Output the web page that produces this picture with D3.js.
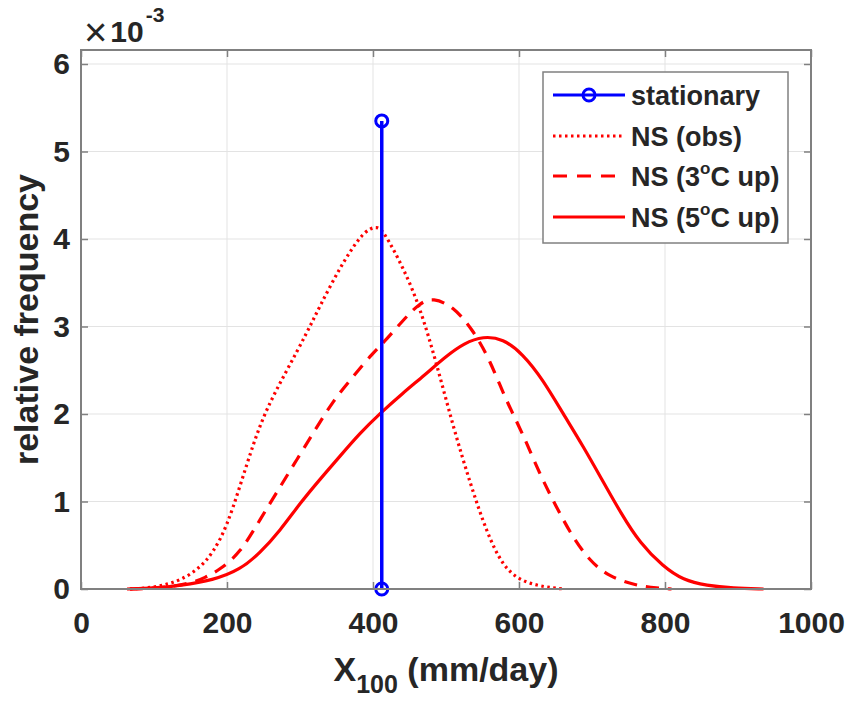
<!DOCTYPE html>
<html>
<head>
<meta charset="utf-8">
<script src="https://cdn.jsdelivr.net/npm/d3@7"></script>
<style>
  body { margin: 0; background: #fff; }
  text { font-family: Arial, "Liberation Sans", sans-serif; font-weight: bold; fill: #262626; }
</style>
</head>
<body>
<script>
// values in units of 1e-3
const xTicks = [0, 200, 400, 600, 800, 1000];
const yTicks = [0, 1, 2, 3, 4, 5, 6];

const stationaryX = [412, 412];
const stationaryY = [0, 5.35];

const obsX = [67, 90, 113, 136, 160, 181, 200, 218, 236, 254, 282, 309, 327, 355, 382, 396, 405, 414, 441, 464, 487, 510, 533, 556, 578, 601, 625, 647, 663];
const obsY = [0, 0.01, 0.04, 0.10, 0.22, 0.41, 0.72, 1.18, 1.66, 2.06, 2.50, 2.92, 3.23, 3.68, 4.03, 4.12, 4.14, 4.10, 3.68, 3.23, 2.58, 1.85, 1.21, 0.64, 0.26, 0.10, 0.04, 0.01, 0];

const up3X = [67, 110, 149, 170, 190, 218, 245, 273, 295, 318, 346, 373, 400, 414, 441, 464, 482, 510, 537, 560, 582, 605, 628, 651, 673, 696, 723, 760, 790, 809];
const up3Y = [0, 0.01, 0.06, 0.13, 0.22, 0.41, 0.79, 1.17, 1.47, 1.78, 2.16, 2.43, 2.70, 2.81, 3.07, 3.27, 3.33, 3.23, 2.96, 2.62, 2.16, 1.78, 1.32, 0.94, 0.60, 0.33, 0.14, 0.04, 0.01, 0];

const up5X = [63, 100, 136, 181, 218, 245, 273, 300, 327, 355, 382, 410, 441, 470, 500, 525, 551, 578, 605, 633, 660, 688, 713, 740, 766, 797, 825, 857, 893, 935];
const up5Y = [0, 0.01, 0.04, 0.10, 0.22, 0.41, 0.67, 0.98, 1.25, 1.52, 1.78, 2.01, 2.24, 2.44, 2.66, 2.81, 2.89, 2.86, 2.69, 2.39, 2.01, 1.63, 1.26, 0.86, 0.52, 0.26, 0.10, 0.04, 0.01, 0];

const legendLabels = ['stationary', 'NS (obs)', 'NS (3', 'NS (5'];

const width = 848, height = 702;
const mLeft = 81, mRight = 811, mTop = 50, mBottom = 589;
const font = 'Arial, "Liberation Sans", sans-serif';

const svg = d3.select('body').append('svg')
  .attr('width', width)
  .attr('height', height);

const x = d3.scaleLinear().domain([0, 1000]).range([mLeft, mRight]);
const y = d3.scaleLinear().domain([0, 6.16]).range([mBottom, mTop]);

// grid
svg.append('g').selectAll('line')
  .data(xTicks.slice(1, -1))
  .enter().append('line')
  .attr('x1', d => x(d)).attr('x2', d => x(d))
  .attr('y1', mTop).attr('y2', mBottom)
  .attr('stroke', '#e3e3e3').attr('stroke-width', 1);

svg.append('g').selectAll('line')
  .data(yTicks.slice(1))
  .enter().append('line')
  .attr('x1', mLeft).attr('x2', mRight)
  .attr('y1', d => y(d)).attr('y2', d => y(d))
  .attr('stroke', '#e3e3e3').attr('stroke-width', 1);

// curves
const line = d3.line()
  .x(d => x(d[0]))
  .y(d => y(d[1]))
  .curve(d3.curveBasis);

const series = [
  { xs: obsX, ys: obsY, dash: '2.5,3.5' },
  { xs: up3X, ys: up3Y, dash: '13,9' },
  { xs: up5X, ys: up5Y, dash: null }
];

series.forEach(s => {
  svg.append('path')
    .datum(d3.zip(s.xs, s.ys))
    .attr('fill', 'none')
    .attr('stroke', '#ff0000')
    .attr('stroke-width', 3.2)
    .attr('stroke-dasharray', s.dash)
    .attr('d', line);
});

// stationary stem
const stem = d3.zip(stationaryX, stationaryY);
svg.append('path')
  .datum(stem)
  .attr('fill', 'none')
  .attr('stroke', '#0000ff')
  .attr('stroke-width', 3.5)
  .attr('d', d3.line().x(d => x(d[0])).y(d => y(d[1])));

svg.append('g').selectAll('circle')
  .data(stem)
  .enter().append('circle')
  .attr('cx', d => x(d[0]))
  .attr('cy', d => y(d[1]))
  .attr('r', 6)
  .attr('fill', 'none')
  .attr('stroke', '#0000ff')
  .attr('stroke-width', 3);

// axes box
svg.append('rect')
  .attr('x', mLeft).attr('y', mTop)
  .attr('width', mRight - mLeft).attr('height', mBottom - mTop)
  .attr('fill', 'none')
  .attr('stroke', '#808080')
  .attr('stroke-width', 2);

const fmt = d3.format('d');

const gx = svg.append('g').attr('transform', `translate(0,${mBottom})`)
  .call(d3.axisBottom(x).tickValues(xTicks).tickSize(-7).tickPadding(23).tickFormat(fmt));
gx.select('.domain').remove();
gx.selectAll('.tick line').attr('stroke', '#808080').attr('stroke-width', 1.5);
gx.selectAll('.tick text').attr('font-size', 30).attr('fill', '#262626')
  .attr('font-family', font).attr('font-weight', 'bold');

const gxTop = svg.append('g').attr('transform', `translate(0,${mTop})`)
  .call(d3.axisTop(x).tickValues(xTicks).tickSize(-7).tickFormat(''));
gxTop.select('.domain').remove();
gxTop.selectAll('.tick line').attr('stroke', '#808080').attr('stroke-width', 1.5);

const gy = svg.append('g').attr('transform', `translate(${mLeft},0)`)
  .call(d3.axisLeft(y).tickValues(yTicks).tickSize(-7).tickPadding(11).tickFormat(fmt));
gy.select('.domain').remove();
gy.selectAll('.tick line').attr('stroke', '#808080').attr('stroke-width', 1.5);
gy.selectAll('.tick text').attr('font-size', 30).attr('fill', '#262626')
  .attr('font-family', font).attr('font-weight', 'bold');

const gyR = svg.append('g').attr('transform', `translate(${mRight},0)`)
  .call(d3.axisRight(y).tickValues(yTicks).tickSize(-7).tickFormat(''));
gyR.select('.domain').remove();
gyR.selectAll('.tick line').attr('stroke', '#808080').attr('stroke-width', 1.5);

// exponent
const ex = svg.append('text').attr('x', 84).attr('y', 42).attr('font-size', 30);
ex.append('tspan').text('\u00d7').attr('font-weight', 'normal').attr('font-size', 40).attr('dy', 4);
ex.append('tspan').text('10').attr('dx', 3).attr('dy', -4);
ex.append('tspan').text('-3').attr('font-size', 21).attr('dy', -20).attr('dx', 2);

// axis labels
const xl = svg.append('text')
  .attr('x', (mLeft + mRight) / 2).attr('y', 681)
  .attr('text-anchor', 'middle').attr('font-size', 34);
xl.append('tspan').text('X');
xl.append('tspan').text('100').attr('font-size', 25).attr('dy', 12);
xl.append('tspan').text(' (mm/day)').attr('dy', -12);

svg.append('text')
  .attr('transform', `translate(38,${(mTop + mBottom) / 2}) rotate(-90)`)
  .attr('text-anchor', 'middle').attr('font-size', 34)
  .text('relative frequency');

// legend
const lg = svg.append('g');
lg.append('rect')
  .attr('x', 543).attr('y', 72)
  .attr('width', 245).attr('height', 171)
  .attr('fill', '#fff')
  .attr('stroke', '#808080').attr('stroke-width', 1.5);

const legendRows = [95, 136, 176, 217];
const legendStyles = [
  { color: '#0000ff', dash: null, marker: true },
  { color: '#ff0000', dash: '2.5,3.5', marker: false },
  { color: '#ff0000', dash: '14,10', marker: false },
  { color: '#ff0000', dash: null, marker: false }
];

legendLabels.forEach((lab, i) => {
  const yy = legendRows[i];
  const st = legendStyles[i];
  lg.append('line')
    .attr('x1', 553).attr('x2', 625)
    .attr('y1', yy).attr('y2', yy)
    .attr('stroke', st.color).attr('stroke-width', 3.2)
    .attr('stroke-dasharray', st.dash);
  if (st.marker) {
    lg.append('circle').attr('cx', 589).attr('cy', yy).attr('r', 6)
      .attr('fill', 'none').attr('stroke', st.color).attr('stroke-width', 3);
  }
  const t = lg.append('text').attr('x', 631).attr('y', yy + 10).attr('font-size', 27);
  t.append('tspan').text(lab);
  if (i >= 2) {
    t.append('tspan').text('o').attr('font-size', 17).attr('dy', -12);
    t.append('tspan').text('C up)').attr('dy', 12);
  }
});
</script>
</body>
</html>
